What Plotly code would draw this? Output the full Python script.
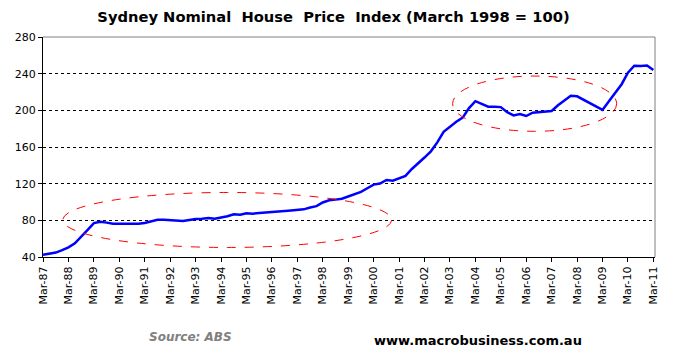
import pandas as pd
import plotly.graph_objects as go

# Quarterly index values, Mar-1987 .. Mar-2011
index_values = [
    42.3, 43.5, 44.8, 47.5, 50.5, 55.0, 62.0, 69.5,
    77.0, 78.4, 77.5, 76.3, 76.2, 76.2, 76.2, 76.3,
    77.2, 79.0, 80.5, 80.5, 80.3, 79.8, 79.2, 80.3,
    81.5, 81.8, 82.5, 81.7, 83.0, 84.5, 86.5, 86.0,
    87.8, 87.3, 88.0, 88.4, 88.7, 89.3, 90.2, 90.8,
    91.3, 92.0, 94.0, 95.5, 99.5, 101.8, 102.6, 103.5,
    106.0, 108.2, 111.0, 115.0, 119.0, 120.2, 124.0, 123.3,
    125.5, 128.5, 136.0, 142.0, 148.5, 155.3, 165.0, 176.5,
    182.0, 187.5, 192.0, 202.5, 210.0, 207.0, 204.0, 204.0,
    203.5, 198.0, 194.5, 196.0, 193.8, 197.4, 198.0, 198.6,
    199.3, 205.6, 210.7, 216.0, 215.3, 211.5, 208.0, 204.0,
    200.5, 210.0, 219.5, 228.5, 241.0, 248.7, 248.4, 249.0,
    244.0,
]
quarter_dates = pd.date_range("1987-03-01", periods=len(index_values), freq="3MS")

tick_dates = pd.date_range("1987-03-01", "2011-03-01", freq="12MS")
tick_labels = [
    "Mar-87", "Mar-88", "Mar-89", "Mar-90", "Mar-91", "Mar-92", "Mar-93",
    "Mar-94", "Mar-95", "Mar-96", "Mar-97", "Mar-98", "Mar-99", "Mar-00",
    "Mar-01", "Mar-02", "Mar-03", "Mar-04", "Mar-05", "Mar-06", "Mar-07",
    "Mar-08", "Mar-09", "Mar-10", "Mar-11",
]
y_ticks = [40, 80, 120, 160, 200, 240, 280]

# highlighted regions (date range, value range)
ellipse_flat = ("1987-12-10", "2000-11-15", 50.4, 110.4)
ellipse_plateau = ("2003-04-10", "2009-09-20", 177.1, 237.4)

W, H = 659, 341  # page body has an 8px default margin

fig = go.Figure()
fig.add_trace(go.Scatter(
    x=quarter_dates, y=index_values, mode="lines",
    line=dict(color="#0000FF", width=2.5), showlegend=False,
))

for (xa, xb, ya, yb) in (ellipse_flat, ellipse_plateau):
    fig.add_shape(type="circle", xref="x", yref="y", x0=xa, x1=xb, y0=ya, y1=yb,
                  line=dict(color="#FF0000", width=1, dash="dash"), layer="above")

# top and right border in grey
fig.add_shape(type="line", xref="paper", yref="paper", x0=0, x1=1, y0=1, y1=1,
              line=dict(color="#808080", width=1))
fig.add_shape(type="line", xref="paper", yref="paper", x0=1, x1=1, y0=0, y1=1,
              line=dict(color="#808080", width=1))

fig.update_layout(
    width=W, height=H,
    margin=dict(l=33, r=W - 33 - 619, t=29, b=H - 29 - 220),
    paper_bgcolor="white", plot_bgcolor="white",
    font=dict(family="DejaVu Sans", color="black", size=11),
    title=dict(text="<b>Sydney Nominal  House  Price  Index (March 1998 = 100)</b>",
               x=325.5 / W, xanchor="center", y=1 - 4 / H, yanchor="top",
               pad=dict(t=0, b=0, l=0, r=0),
               font=dict(family="DejaVu Sans", size=14.7, color="black")),
    xaxis=dict(
        type="date", range=["1987-03-01", "2011-03-25"],
        tickvals=tick_dates, ticktext=tick_labels, tickangle=-90,
        showgrid=False, showline=True, linecolor="black", linewidth=1,
        ticks="outside", ticklen=4, tickcolor="black",
        tickfont=dict(size=11, color="black"),
    ),
    yaxis=dict(
        range=[40, 280], tickvals=y_ticks,
        showgrid=True, gridcolor="black", gridwidth=1, griddash="dot",
        showline=True, linecolor="black", linewidth=1,
        ticks="outside", ticklen=4, tickcolor="black",
        tickfont=dict(size=11, color="black"), zeroline=False,
    ),
    annotations=[
        dict(text="<b><i>Source: ABS</i></b>", xref="paper", yref="paper",
             x=(190 - 41) / 619, y=-(337 - 257) / 220, xanchor="center", yanchor="middle",
             showarrow=False, font=dict(family="DejaVu Sans", size=12, color="#808080")),
        dict(text="<b>www.macrobusiness.com.au</b>", xref="paper", yref="paper",
             x=(481 - 41) / 619, y=-(340 - 257) / 220, xanchor="center", yanchor="middle",
             showarrow=False, font=dict(family="DejaVu Sans", size=13, color="black")),
    ],
)

fig.write_html("out.html")
